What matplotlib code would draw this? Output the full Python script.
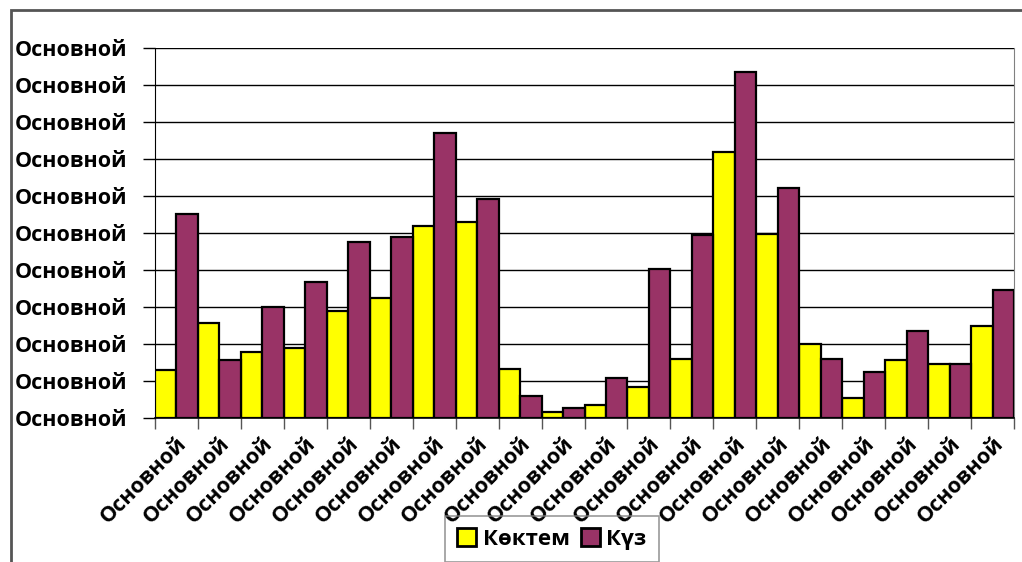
import matplotlib
matplotlib.use("Agg")
import matplotlib.pyplot as plt
from matplotlib.patches import Rectangle
import numpy as np

plt.rcParams['font.family'] = ['Open Sans', 'DejaVu Sans']

categories = ["Основной"] * 20
y_tick_labels = ["Основной"] * 11
series_names = ["Көктем", "Күз"]
koktem = [1.30, 2.57, 1.79, 1.88, 2.88, 3.24, 5.20, 5.29, 1.33, 0.17,
          0.34, 0.83, 1.59, 7.20, 4.97, 2.00, 0.53, 1.57, 1.45, 2.48]
kuz = [5.51, 1.57, 3.01, 3.68, 4.75, 4.88, 7.70, 5.92, 0.60, 0.28,
       1.08, 4.04, 4.94, 9.36, 6.22, 1.59, 1.25, 2.35, 1.46, 3.46]

W, H = 1022, 562
fig = plt.figure(figsize=(W / 100, H / 100), dpi=100)
ax = fig.add_axes([155 / W, 1 - 418 / H, (1014 - 155) / W, (418 - 48) / H])

x = np.arange(len(categories))
bw = 0.5
b1 = ax.bar(x + 0.25, koktem, width=bw, color="#FFFF00", edgecolor="black",
            linewidth=1.6, label=series_names[0], zorder=3)
b2 = ax.bar(x + 0.75, kuz, width=bw, color="#993366", edgecolor="black",
            linewidth=1.6, label=series_names[1], zorder=3)

ax.set_xlim(0, len(categories))
ax.set_ylim(0, 10)
ax.set_yticks(np.arange(11))
ax.set_yticklabels(y_tick_labels, fontsize=15.5, fontweight="bold")
ax.yaxis.grid(True, color="black", linewidth=1.0, zorder=0)
ax.tick_params(axis="y", length=9, width=1, pad=11, color="black")

ax.set_xticks(np.arange(len(categories) + 1))
ax.set_xticklabels([])
ax.tick_params(axis="x", which="major", length=8, width=1, color="#555555")
ax.set_xticks(x + 0.5, minor=True)
ax.set_xticklabels(categories, minor=True, rotation=45, ha="right",
                   rotation_mode="anchor", fontsize=15.5, fontweight="bold")
ax.tick_params(axis="x", which="minor", length=0, pad=11)

ax.spines["top"].set_visible(False)
ax.spines["right"].set_color("#808080")
ax.spines["left"].set_color("black")
ax.spines["bottom"].set_color("black")
ax.spines["bottom"].set_linewidth(1.2)

leg = fig.legend(handles=[b1, b2], labels=series_names, loc="upper left",
                 bbox_to_anchor=(445 / W, 1 - 516 / H), borderaxespad=0,
                 ncol=2, frameon=True, fancybox=False, edgecolor="#808080",
                 facecolor="none", prop={"size": 16, "weight": "bold"},
                 handlelength=0.85, handleheight=0.85, handletextpad=0.3,
                 columnspacing=0.5, borderpad=0.55)
leg.get_frame().set_linewidth(1.2)
for p in leg.get_patches():
    p.set_linewidth(2)

fig.patches.append(Rectangle((11 / W, -0.2), 1.2, 1 - 10 / H + 0.2,
                             transform=fig.transFigure, fill=False,
                             edgecolor="#555555", linewidth=2))

fig.savefig("out.png", dpi=100)
